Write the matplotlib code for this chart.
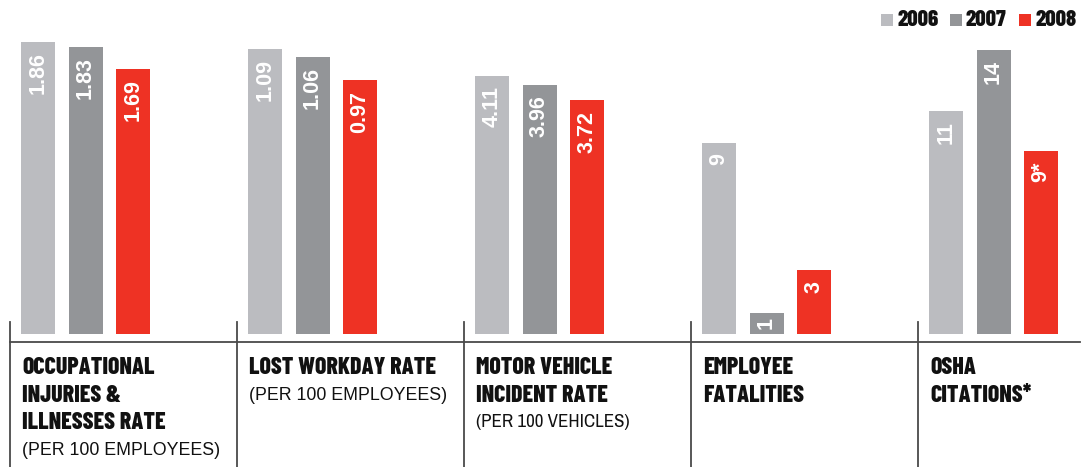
import matplotlib
matplotlib.use('Agg')
import matplotlib.pyplot as plt
from matplotlib.patches import Rectangle

# 데이터
years = ['2006', '2007', '2008']
titles = [['OCCUPATIONAL', 'INJURIES &', 'ILLNESSES RATE'],
          ['LOST WORKDAY RATE'],
          ['MOTOR VEHICLE', 'INCIDENT RATE'],
          ['EMPLOYEE', 'FATALITIES'],
          ['OSHA', 'CITATIONS*']]
subtitles = ['(PER 100 EMPLOYEES)', '(PER 100 EMPLOYEES)', '(PER 100 VEHICLES)', '', '']
injuries = [1.86, 1.83, 1.69]
lost_workday = [1.09, 1.06, 0.97]
motor_vehicle = [4.11, 3.96, 3.72]
fatalities = [9, 1, 3]
osha = [11, 14, 9]
value_labels = [['1.86', '1.83', '1.69'],
                ['1.09', '1.06', '0.97'],
                ['4.11', '3.96', '3.72'],
                ['9', '1', '3'],
                ['11', '14', '9*']]
groups = [injuries, lost_workday, motor_vehicle, fatalities, osha]

colors = ['#bbbcc0', '#939598', '#ee3224']
line_color = '#4a4a4a'

# 그룹마다 축 스케일이 다름 (px per unit)
scales = [156.9, 261.6, 62.85, 21.2, 20.3]

W, H = 1092, 467
fig = plt.figure(figsize=(W / 100, H / 100), dpi=100)

cond = ['Barlow Condensed', 'DejaVu Sans']
narrow = ['Archivo Narrow', 'DejaVu Sans']
sans = ['Liberation Sans', 'DejaVu Sans']

x0 = 10
gw = 227
base = 334
step = 47.5
for i, vals in enumerate(groups):
    ax = fig.add_axes([(x0 + gw * i) / W, (H - base) / H, gw / W, base / H])
    xs = range(len(vals))
    ax.bar(xs, vals, width=34 / step, color=colors, linewidth=0)
    ax.set_xlim(-28 / step, (gw - 28) / step)
    ax.set_ylim(0, base / scales[i])
    ax.axis('off')
    for x, v, lab in zip(xs, vals, value_labels[i]):
        pad = -7.5 if v * scales[i] > 40 else -3
        ax.annotate(lab, (x, v), xytext=(0, pad), textcoords='offset points',
                    rotation=90, ha='center', va='top', color='white',
                    fontsize=15.5, fontweight='bold', family=sans)

# 선, 텍스트용 오버레이 축
ov = fig.add_axes([0, 0, 1, 1])
ov.set_xlim(0, W)
ov.set_ylim(H, 0)
ov.axis('off')
ov.plot([x0, 1080], [342, 342], color=line_color, lw=1.3)
for i in range(5):
    xd = x0 + gw * i
    ov.plot([xd, xd], [322, H], color=line_color, lw=1.3)
    y = 374
    for line in titles[i]:
        ov.text(xd + 12, y, line, fontsize=17.2, fontweight=800, family=cond,
                fontstretch='condensed', va='baseline', ha='left', color='#111111')
        y += 27.5
    if subtitles[i]:
        y = y - 27.5 + 26
        if i == 2:
            ov.text(xd + 12, y, subtitles[i], fontsize=13.6, family=narrow,
                    fontstretch='condensed', va='baseline', ha='left', color='#111111')
        else:
            ov.text(xd + 12, y, subtitles[i], fontsize=12.8, family=sans,
                    va='baseline', ha='left', color='#111111')

# 범례
leg_x = [881, 950, 1019]
for lx, yr, c in zip(leg_x, years, colors):
    ov.add_patch(Rectangle((lx, 14), 12, 12, color=c, lw=0))
    ov.text(lx + 16, 26.5, yr, fontsize=16.5, fontweight=800, family=cond,
            fontstretch='condensed', va='baseline', ha='left', color='#111111')

fig.savefig('out.png', dpi=100)
